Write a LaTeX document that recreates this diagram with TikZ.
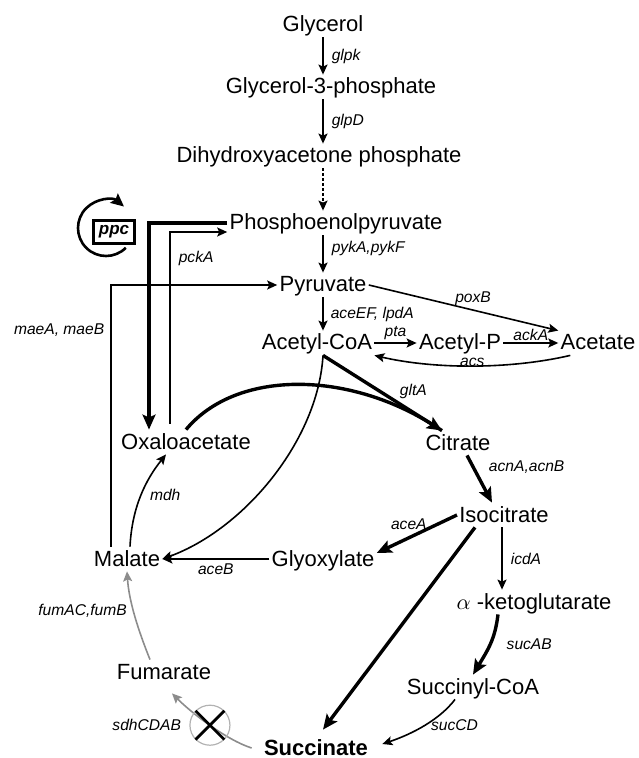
\documentclass[tikz,border=0pt]{standalone}
\usepackage{fontspec}
\setmainfont{Liberation Sans}
\usetikzlibrary{arrows.meta,positioning,shapes.misc}
\colorlet{pathgray}{black!45}
\begin{document}
\begin{tikzpicture}[x=0.5pt, y=-0.5pt,
    met/.style={inner sep=1pt, text height=8.5pt, text depth=1.5pt, font=\fontsize{11}{13}\selectfont},
    enz/.style={inner sep=0pt, font=\fontsize{7.8}{9}\selectfont\itshape},
    rxn/.style={-{Stealth[length=5pt, width=4.5pt, inset=1pt]}, line width=0.8pt},
    bigrxn/.style={-{Stealth[length=7.5pt, width=6.5pt, inset=1.5pt]}, line width=1.7pt},
    offrxn/.style={rxn, draw=pathgray}]
    \useasboundingbox (0,0) rectangle (638,758);
    \coordinate (axis) at (323,0);
    % metabolites
    \node[met] (gly) at (323,25) {Glycerol};
    \node[met] (g3p) at (331,87) {Glycerol-3-phosphate};
    \node[met] (dhap) at (319,156) {Dihydroxyacetone phosphate};
    \node[met] (pep) at (336,223) {Phosphoenolpyruvate};
    \node[met] (pyr) at (323,285) {Pyruvate};
    \node[met] (acoa) at (317,343) {Acetyl-CoA};
    \node[met] (acp) at (460,343) {Acetyl-P};
    \node[met] (ac) at (598,343) {Acetate};
    \node[met] (oaa) at (186,442) {Oxaloacetate};
    \node[met] (cit) at (458,443) {Citrate};
    \node[met] (icit) at (504,515) {Isocitrate};
    \node[met] (glx) at (323,559) {Glyoxylate};
    \node[met] (mal) at (127,559) {Malate};
    \node[met] (akg) at (534,602) {$\alpha$ -ketoglutarate};
    \node[met] (scoa) at (473,687) {Succinyl-CoA};
    \node[met] (fum) at (164,672) {Fumarate};
    \node[met, font=\fontsize{11}{13}\selectfont\bfseries] (suc) at (316,748) {Succinate};
    \node[draw, line width=1.4pt, inner sep=2.5pt, font=\fontsize{8.5}{9}\selectfont\bfseries\itshape] (ppc) at (114,232) {ppc};
    % glycerol to acetyl-CoA
    \draw[rxn] (axis |- gly.south) -- (axis |- g3p.north) node[enz, midway, right=4pt] {glpk};
    \draw[rxn] (axis |- g3p.south) -- (axis |- dhap.north) node[enz, midway, right=4pt] {glpD};
    \draw[rxn, dash pattern=on 1.5pt off 1pt] (axis |- dhap.south) -- (axis |- pep.north);
    \draw[rxn] (axis |- pep.south) -- (axis |- pyr.north) node[enz, pos=0.35, right=4pt] {pykA,pykF};
    \draw[rxn] (axis |- pyr.south) -- (axis |- acoa.north) node[enz, midway, right=3.5pt] {aceEF, lpdA};
    % acetate
    \draw[rxn] (acoa.east) -- (acp.west) node[enz, midway, above=1pt] {pta};
    \draw[rxn] (acp.east) -- (ac.west) node[enz, midway, above=1pt] {ackA};
    \draw[rxn] ([xshift=6pt]ac.south west) .. controls +(-60,14) and +(60,14) .. (acoa.south east) node[enz, midway, above=-1pt] {acs};
    \draw[rxn] (pyr.east) -- (ac.north west) node[enz, pos=0.55, above=2pt] {poxB};
    % TCA cycle and glyoxylate shunt
    \draw[line width=1.7pt] ([xshift=3pt]acoa.south) -- ([xshift=-8pt]cit.north) node[enz, pos=0.62, above right=1pt] {gltA};
    \draw[bigrxn] (oaa.north) .. controls +(50,-60) and +(-95,-60) .. ([xshift=-8pt]cit.north);
    \draw[rxn] ([xshift=3pt]acoa.south) .. controls +(-5,85) and +(82,-30) .. (mal.east);
    \draw[bigrxn] ([xshift=4.5pt]cit.south) -- ([xshift=-6pt]icit.north) node[enz, pos=0.25, right=7pt] {acnA,acnB};
    \draw[bigrxn] (icit.west) -- ([yshift=3pt]glx.east) node[enz, pos=0.6, above=3pt] {aceA};
    \draw[rxn] (glx.west) -- (mal.east) node[enz, midway, below=2pt] {aceB};
    \draw[rxn] ([xshift=-1pt]icit.south) -- ([xshift=-1pt]icit.south |- akg.north) node[enz, midway, right=4pt] {icdA};
    \draw[bigrxn] ([xshift=-18pt]akg.south) .. controls +(-3,25) and +(15,-25) .. (scoa.north) node[enz, midway, right=7.5pt] {sucAB};
    \draw[rxn] ([xshift=-9pt]scoa.south) .. controls +(-15,20) and +(30,-10) .. ([xshift=6pt,yshift=2pt]suc.east) node[enz, midway, right=3pt] {sucCD};
    \draw[bigrxn] ([xshift=-14.5pt]icit.south) -- ([xshift=3.5pt,yshift=3pt]suc.north);
    \draw[rxn] ([xshift=1.5pt]mal.north) .. controls +(2,-40) and +(-20,25) .. ([xshift=-10pt]oaa.south) node[enz, midway, right=4pt] {mdh};
    % blocked step
    \draw[offrxn] ([xshift=-5pt]suc.west) .. controls +(-25,-8) and +(20,20) .. ([xshift=4pt,yshift=-4.5pt]fum.south)
        node[pos=0.5, circle, draw=black!30, line width=0.6pt, minimum size=20pt] (blk) {};
    \node[cross out, draw, line width=1.4pt, minimum size=13pt, inner sep=0pt] (knock) at (blk) {};
    \node[enz, left=4pt of blk] (sdh) {sdhCDAB};
    \draw[offrxn] ([xshift=-7pt]fum.north) .. controls +(-12,-30) and +(2,30) .. (mal.south) node[enz, pos=0.55, left=3pt] {fumAC,fumB};
    % anaplerotic reactions
    \draw[bigrxn] (pep.west) -| ([xshift=-18.5pt]oaa.north);
    \draw[rxn] ([xshift=-8pt,yshift=3pt]oaa.north) |- ([yshift=-4.5pt]pep.west) node[enz, pos=0.43, right=4pt] {pckA};
    \draw[rxn] ([xshift=-8pt]mal.north) |- (pyr.west) node[enz, pos=0.414, left=3pt] {maeA, maeB};
    \draw[-{Stealth[length=6.5pt, width=6pt, inset=1pt]}, line width=1.3pt] ([shift={(-8,-4)}]ppc.center) ++(45:28) arc[start angle=45, end angle=310, radius=28];
\end{tikzpicture}
\end{document}
